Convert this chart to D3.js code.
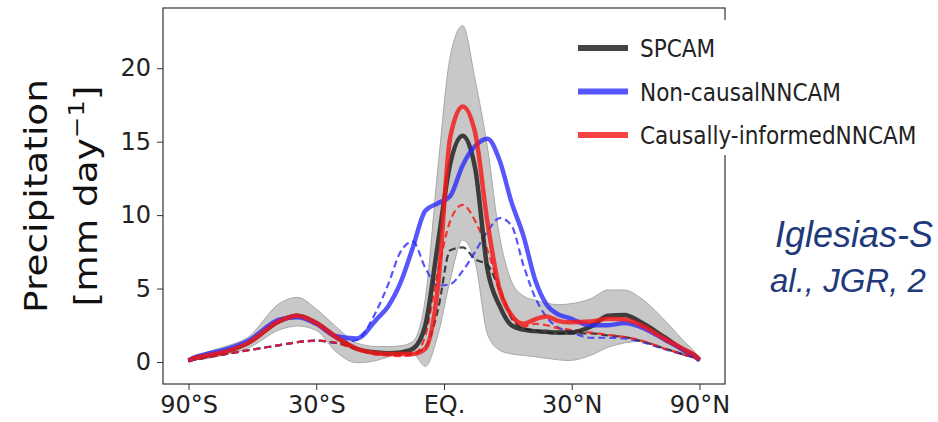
<!DOCTYPE html>
<html>
<head>
<meta charset="utf-8">
<script src="https://cdn.jsdelivr.net/npm/d3@7"></script>
<style>
  body { margin: 0; background: #fff; }
  svg { display: block; }
</style>
</head>
<body>
<svg width="938" height="422"></svg>
<script>
// latitude grid (degrees), x axis is drawn in sin(latitude)
const lats = [-90, -80, -70, -60, -50, -40, -35, -30, -25, -20, -15.3, -12.6, -9.8, -7.0, -4.2, -1.4,
  1.4, 4.2, 7.0, 9.8, 12.6, 15.3, 18.1, 20.9, 23.7, 26.5, 29.3, 35, 40, 45, 50, 60, 70, 80, 90];

// solid lines
const spcam = [0.1, 0.22, 0.4, 0.65, 1.3, 2.8, 3.15, 2.65, 1.7, 0.9, 0.65, 0.6, 0.65, 0.9, 2.5, 8.0,
  13.5, 15.4, 13.2, 6.3, 3.8, 2.5, 2.2, 2.1, 2.05, 2.0, 2.0, 2.4, 3.15, 3.2, 2.75, 1.65, 0.8, 0.4, 0.15];
const nonCausal = [0.1, 0.25, 0.5, 0.8, 1.45, 2.9, 3.05, 2.6, 1.75, 1.6, 2.9, 3.8, 5.4, 7.8, 10.3, 10.8,
  11.3, 13.4, 14.7, 15.2, 13.7, 10.9, 8.6, 5.6, 3.9, 3.25, 3.0, 2.5, 2.5, 2.65, 2.4, 1.5, 0.8, 0.35, 0.1];
const causal = [0.1, 0.22, 0.4, 0.65, 1.3, 2.8, 3.15, 2.65, 1.7, 0.9, 0.6, 0.55, 0.55, 0.55, 0.9, 5.0,
  15.3, 17.4, 15.6, 9.5, 4.9, 3.2, 2.6, 2.9, 3.1, 2.8, 2.7, 2.75, 2.95, 2.9, 2.55, 1.55, 0.85, 0.4, 0.15];

// dashed lines
const spcamD = [0.05, 0.12, 0.28, 0.5, 0.8, 1.15, 1.35, 1.45, 1.3, 0.9, 0.6, 0.55, 0.5, 0.6, 1.0, 3.5,
  7.6, 7.8, 7.0, 6.6, 4.9, 3.0, 2.3, 2.15, 2.0, 1.95, 1.95, 1.95, 1.8, 1.7, 1.45, 0.9, 0.5, 0.25, 0.1];
const nonCausalD = [0.05, 0.12, 0.28, 0.5, 0.8, 1.15, 1.35, 1.45, 1.3, 1.5, 3.5, 5.3, 7.5, 8.2, 6.4, 5.2,
  5.3, 6.2, 7.5, 8.9, 9.8, 9.3, 6.6, 4.4, 3.05, 2.35, 2.1, 1.65, 1.65, 1.6, 1.4, 0.85, 0.5, 0.25, 0.1];
const causalD = [0.05, 0.12, 0.28, 0.5, 0.8, 1.15, 1.35, 1.45, 1.3, 0.85, 0.5, 0.45, 0.4, 0.45, 1.8, 6.1,
  9.6, 10.7, 9.6, 7.6, 5.1, 3.2, 2.4, 2.6, 2.5, 2.3, 2.2, 2.0, 1.85, 1.7, 1.5, 0.9, 0.5, 0.25, 0.1];

// SPCAM spread
const bandHi = [0.12, 0.3, 0.6, 1.0, 1.7, 4.0, 4.4, 3.6, 2.4, 1.3, 1.05, 1.05, 1.1, 1.4, 4.3, 13.1,
  20.8, 22.9, 19.2, 14.6, 8.5, 5.5, 4.5, 4.2, 4.0, 3.9, 3.95, 4.3, 4.9, 4.9, 4.4, 2.8, 1.4, 0.6, 0.15];
const bandLo = [0.0, 0.08, 0.2, 0.45, 0.95, 2.2, 2.45, 2.15, 0.7, -0.05, 0.1, 0.35, 0.55, 0.55, -0.3, 1.8,
  5.6, 8.3, 6.8, 1.9, 0.8, 0.55, 0.45, 0.35, 0.25, 0.15, 0.1, 0.45, 1.0, 1.3, 1.4, 0.9, 0.45, 0.2, 0.05];

const xTicks = [-90, -30, 0, 30, 90];
const xTickLabels = ["90°S", "30°S", "EQ.", "30°N", "90°N"];
const yTicks = [0, 5, 10, 15, 20];
const legendNames = ["SPCAM", "Non-causalNNCAM", "Causally-informedNNCAM"];

const svg = d3.select("svg");
const mLeft = 163, mRight = 725, mTop = 8, mBottom = 384;

const x = d3.scaleLinear().domain([-1.1, 1.1]).range([mLeft, mRight]);
const y = d3.scaleLinear().domain([-1.5, 24.1]).range([mBottom, mTop]);
const sx = (lat) => x(Math.sin(lat * Math.PI / 180));

const rows = lats.map((lat, i) => ({ lat, hi: bandHi[i], lo: bandLo[i] }));

const line = (vals) => d3.line()
  .x((d, i) => sx(lats[i]))
  .y((d) => y(d))
  .curve(d3.curveMonotoneX)(vals);

const area = d3.area()
  .x((d) => sx(d.lat))
  .y0((d) => y(d.lo))
  .y1((d) => y(d.hi))
  .curve(d3.curveMonotoneX);

svg.append("path")
  .datum(rows)
  .attr("d", area)
  .attr("fill", "#c8c8c8")
  .attr("stroke", "#a8a8a8")
  .attr("stroke-width", 1);

const black = "rgba(35,35,35,0.85)";
const blue = "rgba(40,40,250,0.78)";
const red = "rgba(245,25,25,0.82)";

// dashed
[[spcamD, black], [nonCausalD, blue], [causalD, red]].forEach(([vals, col]) => {
  svg.append("path")
    .attr("d", line(vals))
    .attr("fill", "none")
    .attr("stroke", col)
    .attr("stroke-width", 2.2)
    .attr("stroke-dasharray", "7,4");
});

// solid
[[spcam, black], [nonCausal, blue], [causal, red]].forEach(([vals, col]) => {
  svg.append("path")
    .attr("d", line(vals))
    .attr("fill", "none")
    .attr("stroke", col)
    .attr("stroke-width", 4.5)
    .attr("stroke-linejoin", "round");
});

// frame
svg.append("rect")
  .attr("x", mLeft).attr("y", mTop)
  .attr("width", mRight - mLeft).attr("height", mBottom - mTop)
  .attr("fill", "none").attr("stroke", "#333").attr("stroke-width", 1.2);

// axes
const xAxis = d3.axisBottom(x)
  .tickValues(xTicks.map((d) => Math.sin(d * Math.PI / 180)))
  .tickFormat((d, i) => xTickLabels[i])
  .tickSizeOuter(0).tickSize(6).tickPadding(6);
const gx = svg.append("g").attr("transform", `translate(0,${mBottom})`).call(xAxis);
gx.select(".domain").remove();
gx.selectAll("text").attr("font-family", "DejaVu Sans").attr("font-size", 24).attr("fill", "#222");
gx.selectAll("line").attr("stroke", "#333");

const yAxis = d3.axisLeft(y).tickValues(yTicks).tickSizeOuter(0).tickSize(6).tickPadding(6);
const gy = svg.append("g").attr("transform", `translate(${mLeft},0)`).call(yAxis);
gy.select(".domain").remove();
gy.selectAll("text").attr("font-family", "DejaVu Sans").attr("font-size", 24).attr("fill", "#222");
gy.selectAll("line").attr("stroke", "#333");

// y label (stretched along its length like the reference)
const yl = svg.append("text")
  .attr("transform", `translate(47,${(mTop + mBottom) / 2}) rotate(-90) scale(1.17,1)`)
  .attr("text-anchor", "middle")
  .attr("font-family", "DejaVu Sans")
  .attr("font-size", 32)
  .attr("fill", "#111");
yl.append("tspan").attr("x", 0).attr("dy", 0).text("Precipitation");
const l2 = yl.append("tspan").attr("x", 0).attr("dy", 50).text("[mm day");
l2.append("tspan").attr("font-size", 22).attr("dy", -13).text("−1");
yl.append("tspan").attr("dy", 13).text("]");

// legend
const lg = svg.append("g");
lg.append("rect").attr("x", 563).attr("y", 20).attr("width", 380).attr("height", 135).attr("fill", "#fff");
[black, blue, red].forEach((col, i) => {
  const ly = 48 + i * 43.5;
  lg.append("line").attr("x1", 578).attr("x2", 628).attr("y1", ly).attr("y2", ly)
    .attr("stroke", col).attr("stroke-width", 6);
  lg.append("text").attr("x", 640).attr("y", ly + 9)
    .attr("font-family", "DejaVu Sans Condensed, DejaVu Sans")
    .attr("font-stretch", "condensed")
    .attr("font-size", 24).attr("fill", "#222")
    .text(legendNames[i]);
});

// citation (cut at the right edge in the reference)
const cite = svg.append("text")
  .attr("font-family", "Liberation Sans, Arial")
  .attr("font-style", "italic")
  .attr("fill", "#1f3a7c");
cite.append("tspan").attr("x", 775).attr("y", 247).attr("font-size", 36).text("Iglesias-S");
cite.append("tspan").attr("x", 770).attr("y", 292).attr("font-size", 33).text("al., JGR, 2");
</script>
</body>
</html>
